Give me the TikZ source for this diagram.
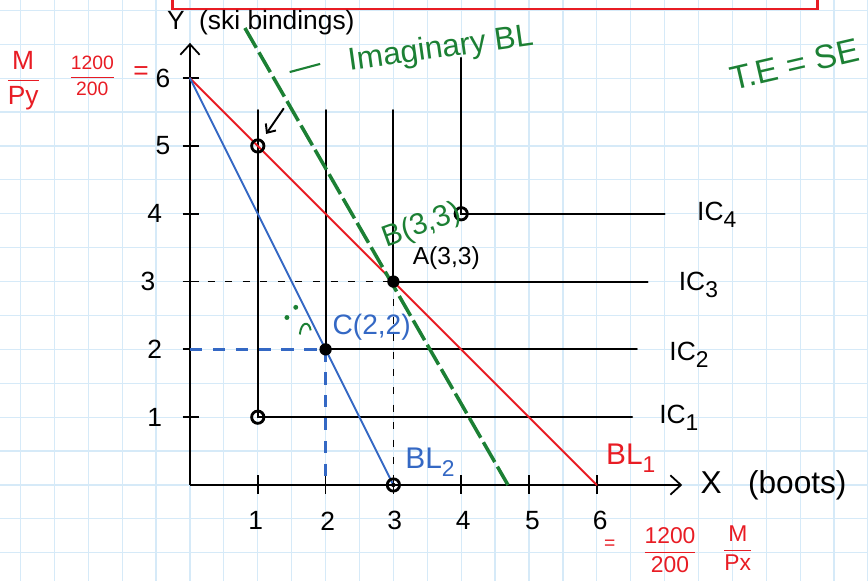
\documentclass[tikz,border=0pt]{standalone}
\usepackage{amsmath}
\usepackage{fontspec}
\setmainfont{Liberation Sans}
\usetikzlibrary{arrows.meta,positioning}

\definecolor{gridblue}{RGB}{214,234,248}
\definecolor{penred}{RGB}{232,28,36}
\definecolor{penblue}{RGB}{52,104,196}
\definecolor{pengreen}{RGB}{28,128,52}

% handwritten-size subscript
\newcommand{\hsub}[1]{\raisebox{-0.5ex}{\fontsize{13}{13}\selectfont #1}}

\tikzset{
  pen/.style={line width=1.1pt, line cap=round},
  dotpt/.style={circle, fill=black, inner sep=0pt, minimum size=7pt},
  ringpt/.style={circle, draw=black, line width=1.6pt, inner sep=0pt, minimum size=7pt},
  hand/.style={inner sep=1pt, font=\fontsize{15}{17}\selectfont},
  redtxt/.style={hand, text=penred},
  icline/.style={pen, black},
  guide/.style={line width=1pt, dash pattern=on 4pt off 6pt},
  imagbl/.style={line width=2pt, pengreen, dash pattern=on 13pt off 3pt},
  axisarrow/.style={line width=1pt, -{Straight Barb[length=6pt,width=11pt]}}
}

\begin{document}
\begin{tikzpicture}[x=1.356cm, y=1.356cm]
    \useasboundingbox (-2.802,-1.416) rectangle (10.0,7.153);
    % squared paper
    \draw[gridblue, line width=0.7pt, step=0.5] (-3,-1.5) grid (10.5,7.5);
    % red box cut off at the top
    \draw[penred, line width=1.7pt] (-0.265,7.6) -- (-0.265,7.02) -- (9.26,7.02) -- (9.26,7.6);

    % points
    \coordinate (O) at (0,0);
    \coordinate (Ytop) at (0,6.52);
    \coordinate (Xend) at (7.26,0);
    \coordinate (Y6) at (0,6);
    \coordinate (X6) at (6,0);
    \coordinate (Y3) at (0,3);
    \coordinate (Y2) at (0,2);
    \coordinate (X2) at (2,0);
    \coordinate (p15) at (1,5);
    \coordinate (p11) at (1,1);
    \coordinate (pC) at (2,2);
    \coordinate (pA) at (3,3);
    \coordinate (p44) at (4,4);
    \coordinate (p30) at (3,0);
    \coordinate (gtop) at (0.81,6.74);
    \coordinate (gbot) at (4.69,0);

    % axes
    \draw[axisarrow] (O) -- (Ytop);
    \draw[axisarrow] (O) -- (Xend);
    \foreach \k in {1,...,6} {
      \draw[line width=1pt] (-0.11,\k) -- (0.14,\k);
      \draw[line width=1pt] (\k,-0.13) -- (\k,0.14);
    }
    \foreach \k/\lx in {1/-0.52,2/-0.52,3/-0.62,4/-0.52,5/-0.4,6/-0.4}
      \node[hand] (ylab\k) at (\lx,\k) {\k};
    \foreach \k/\lx in {1/0.97,2/2.03,3/3.02,4/4.03,5/5.05,6/6.05}
      \node[hand] (xlab\k) at (\lx,-0.53) {\k};
    \node[hand, anchor=west] (ylabel) at (-0.37,6.82) {Y\ \ (ski bindings)};
    \node[hand, anchor=west, font=\fontsize{18}{20}\selectfont] (xlabel) at (7.5,0.0) {X\ \ \ (boots)};

    % intercepts
    \node[redtxt] (mpy) at (-2.46,5.96) {$\dfrac{\textrm{M}}{\textrm{Py}}$};
    \node[redtxt, font=\fontsize{11}{12}\selectfont] (ratioy) at (-1.44,6.03) {$\dfrac{\textrm{1200}}{\textrm{200}}$};
    \node[redtxt] (eqy) at (-0.72,6.08) {=};
    \node[redtxt, font=\fontsize{11}{12}\selectfont] (eqx) at (6.19,-0.88) {=};
    \node[redtxt, font=\fontsize{13}{14}\selectfont] (ratiox) at (7.08,-0.96) {$\dfrac{\textrm{1200}}{\textrm{200}}$};
    \node[redtxt, font=\fontsize{13}{14}\selectfont] (mpx) at (8.08,-0.93) {$\dfrac{\textrm{M}}{\textrm{Px}}$};

    % indifference curves
    \draw[icline] (1,5.53) -- (p11) -- (6.52,1);
    \draw[icline] (2,5.53) -- (pC) -- (6.59,2);
    \draw[icline] (3,5.53) -- (pA) -- (6.75,3);
    \draw[icline] (4,6.3) -- (p44) -- (7.0,4);
    \node[hand, anchor=west] (ic1) at (6.89,0.99) {IC\hsub{1}};
    \node[hand, anchor=west] (ic2) at (7.04,1.92) {IC\hsub{2}};
    \node[hand, anchor=west] (ic3) at (7.18,2.95) {IC\hsub{3}};
    \node[hand, anchor=west] (ic4) at (7.45,3.98) {IC\hsub{4}};

    % dashed guides
    \draw[guide] (Y3) -- (pA);
    \draw[guide] (pA) -- (p30);
    \draw[guide, penblue, line width=1.3pt, dash pattern=on 7pt off 6pt] (Y2) -- (pC);
    \draw[guide, penblue, line width=1.3pt, dash pattern=on 7pt off 6pt] (pC) -- (X2);

    % budget lines
    \draw[pen, penred] (Y6) -- (X6);
    \draw[pen, penblue] (Y6) -- (p30);
    \draw[imagbl] (gtop) -- (gbot);

    % marked bundles
    \node[ringpt] (dot15) at (p15) {};
    \node[ringpt] (dot11) at (p11) {};
    \node[dotpt] (dotC) at (pC) {};
    \node[dotpt] (dotA) at (pA) {};
    \node[ringpt] (dot44) at (p44) {};
    \node[ringpt] (dot30) at (p30) {};
    \node[circle, fill=black, inner sep=0pt, minimum size=2.5pt] (dot30c) at (p30) {};

    % labels
    \node[hand, font=\fontsize{14}{16}\selectfont] (labA) at (3.78,3.34) {A(3,3)};
    \node[hand, text=pengreen, rotate=20, font=\fontsize{17}{19}\selectfont] (labB) at (3.42,3.82) {B(3,3)};
    \node[hand, text=penblue, font=\fontsize{16}{18}\selectfont] (labC) at (2.68,2.32) {C(2,2)};
    \node[hand, text=penblue, font=\fontsize{17}{19}\selectfont] (labBL2) at (3.54,0.34) {BL\hsub{2}};
    \node[redtxt, font=\fontsize{17}{19}\selectfont] (labBL1) at (6.5,0.4) {BL\hsub{1}};

    % imaginary budget line note
    \coordinate (notedash) at (1.47,6.09);
    \draw[pengreen, line width=1.2pt] (notedash) -- (1.92,6.21);
    \node[hand, text=pengreen, rotate=8, font=\fontsize{18}{20}\selectfont] (imagtxt) at (3.7,6.42) {Imaginary BL};
    \coordinate (arrowtail) at (1.38,5.55);
    \draw[pen, -{Straight Barb[length=4pt,width=7pt]}, shorten >=4pt] (arrowtail) -- (dot15);
    \node[hand, text=pengreen, rotate=13, anchor=west, font=\fontsize{19}{21}\selectfont] (tese) at (7.95,5.98) {T.E = SE};

    % sad face
    \fill[pengreen] (1.43,2.47) circle (1.4pt);
    \fill[pengreen] (1.56,2.62) circle (1.4pt);
    \draw[pengreen, line width=1.1pt] (1.62,2.22) .. controls (1.64,2.42) and (1.76,2.42) .. (1.78,2.28);
\end{tikzpicture}
\end{document}
